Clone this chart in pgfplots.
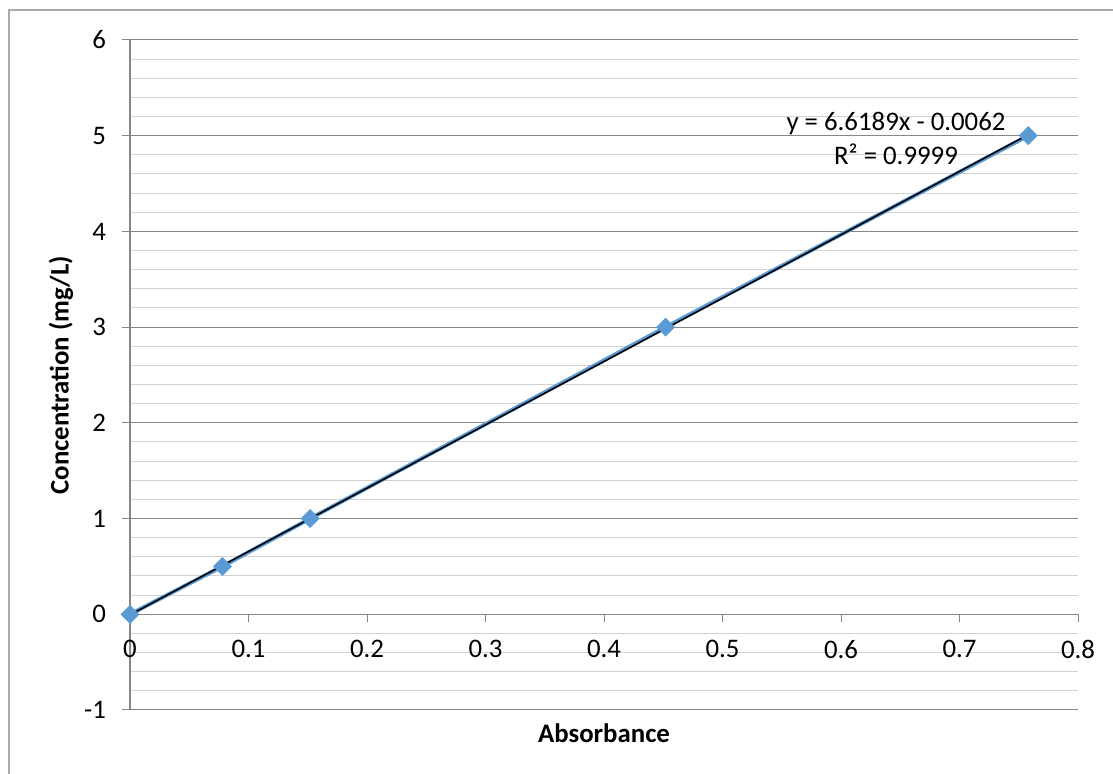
\documentclass[border=0pt]{standalone}
\usepackage{pgfplots}
\pgfplotsset{compat=1.18}
\usepackage{fontspec}
\setmainfont{Carlito}
\definecolor{ser}{RGB}{91,155,213}
\definecolor{majg}{RGB}{134,134,134}
\definecolor{ming}{RGB}{210,210,210}
\begin{document}
\begin{tikzpicture}
\useasboundingbox (0,0) rectangle (556.5pt,387pt);
\draw[color=majg!70, line width=0.6pt] (4.5pt,-2pt) -- (4.5pt,382pt) -- (560pt,382pt);
\begin{axis}[
  at={(65pt,32pt)}, anchor=south west,
  scale only axis, width=474pt, height=335pt,
  xmin=0, xmax=0.8, ymin=-1, ymax=6,
  axis x line=middle, axis y line=left,
  hide obscured x ticks=false, hide obscured y ticks=false,
  axis line style={-, color=majg, line width=0.6pt},
  xtick={0,0.1,0.2,0.3,0.4,0.5,0.6,0.7,0.8},
  xticklabels={0,0.1,0.2,0.3,0.4,0.5,0.6,0.7,0.8},
  ytick={-1,0,1,2,3,4,5,6},
  yticklabels={-1,0,1,2,3,4,5,6},
  minor y tick num=4,
  ymajorgrids, yminorgrids,
  major grid style={color=majg, line width=0.5pt},
  minor grid style={color=ming, line width=0.5pt},
  tick align=outside,
  major tick length=4pt, minor tick length=0pt,
  tick style={color=majg, line width=0.5pt},
  ticklabel style={font=\fontsize{13.4}{16}\selectfont, text=black},
  xticklabel style={anchor=north, yshift=-5.5pt},
  yticklabel style={anchor=east, xshift=-4.5pt},
  xlabel={Absorbance}, ylabel={Concentration (mg/L)},
  label style={font=\fontsize{13.4}{16}\selectfont\bfseries},
  xlabel style={at={(axis description cs:0.5,-0.0343)}, anchor=center},
  ylabel style={at={(axis description cs:-0.0728,0.5)}, anchor=center, rotate=0},
  clip=false,
]
\addplot[color=ser, line width=2pt, mark=square*, mark size=3.1pt,
  mark options={rotate=45, fill=ser, draw=ser, line width=0.5pt}]
  coordinates {(0,0) (0.078,0.5) (0.152,1) (0.452,3) (0.758,5)};
\addplot[color=black, line width=0.8pt] coordinates {(0,-0.0062) (0.758,5.0109)};
\node[align=center, font=\fontsize{13.4}{17}\selectfont] at (axis cs:0.6464,4.974)
  {y = 6.6189x - 0.0062\\R² = 0.9999};
\end{axis}
\end{tikzpicture}
\end{document}
